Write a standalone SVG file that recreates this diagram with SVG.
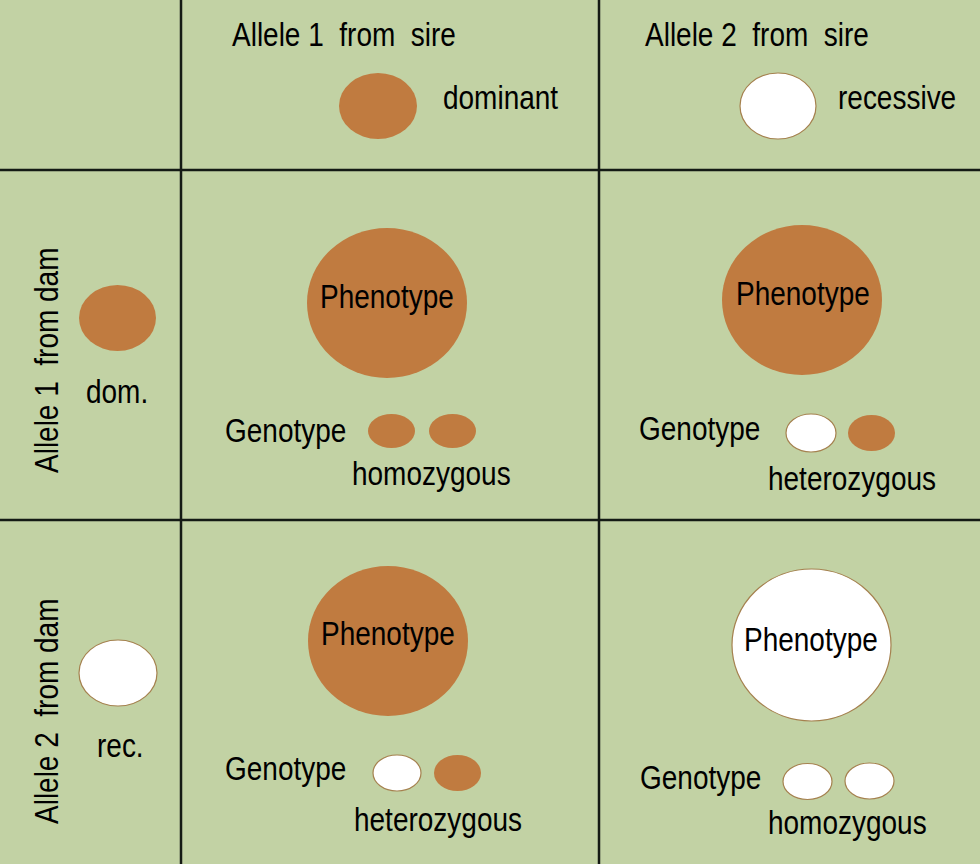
<svg xmlns="http://www.w3.org/2000/svg" width="980" height="864" viewBox="0 0 980 864">
<style>
text{font-family:"Liberation Sans",Arial,sans-serif;font-size:28px;fill:#000}
.b{fill:#c07b40}
.w{fill:#fff;stroke:#a5814f;stroke-width:1.2}
.grid line{stroke:#141a14;stroke-width:2.5}
</style>
<rect width="980" height="864" fill="#c2d2a4"/>
<g id="grid" class="grid">
<line x1="181" y1="0" x2="181" y2="864"/>
<line x1="599" y1="0" x2="599" y2="864"/>
<line x1="0" y1="170" x2="980" y2="170"/>
<line x1="0" y1="520" x2="980" y2="520"/>
</g>
<g id="sire1">
<text xml:space="preserve" transform="translate(232,46) scale(1,1.2)">Allele 1  from  sire</text>
<ellipse class="b" cx="378" cy="106" rx="39" ry="33"/>
<text transform="translate(443,109) scale(1,1.2)">dominant</text>
</g>
<g id="sire2">
<text xml:space="preserve" transform="translate(645,46) scale(1,1.2)">Allele 2  from  sire</text>
<ellipse class="w" cx="778" cy="106" rx="38" ry="33"/>
<text transform="translate(838,109) scale(1,1.2)">recessive</text>
</g>
<g id="dam1">
<text xml:space="preserve" transform="translate(58,473) rotate(-90) scale(1,1.2)">Allele 1  from dam</text>
<ellipse class="b" cx="117.5" cy="318" rx="38.5" ry="33"/>
<text transform="translate(86,403) scale(1,1.2)">dom.</text>
</g>
<g id="dam2">
<text xml:space="preserve" transform="translate(58,824) rotate(-90) scale(1,1.2)">Allele 2  from dam</text>
<ellipse class="w" cx="118" cy="673" rx="39" ry="33"/>
<text transform="translate(97,757) scale(1,1.2)">rec.</text>
</g>
<g id="cell11">
<ellipse class="b" cx="387" cy="303" rx="80" ry="75"/>
<text transform="translate(320,308) scale(1,1.2)">Phenotype</text>
<text transform="translate(225,442) scale(1,1.2)">Genotype</text>
<ellipse class="b" cx="391.5" cy="431" rx="23.5" ry="17"/>
<ellipse class="b" cx="452.5" cy="431" rx="23.5" ry="17"/>
<text transform="translate(352,485) scale(1,1.2)">homozygous</text>
</g>
<g id="cell12">
<ellipse class="b" cx="802" cy="300" rx="80" ry="75"/>
<text transform="translate(736,305) scale(1,1.2)">Phenotype</text>
<text transform="translate(639,440) scale(1,1.2)">Genotype</text>
<ellipse class="w" cx="811" cy="433" rx="25" ry="19"/>
<ellipse class="b" cx="871.5" cy="433" rx="23.5" ry="18"/>
<text transform="translate(768,490) scale(1,1.2)">heterozygous</text>
</g>
<g id="cell21">
<ellipse class="b" cx="388" cy="641" rx="80" ry="75"/>
<text transform="translate(321,645) scale(1,1.2)">Phenotype</text>
<text transform="translate(225,780) scale(1,1.2)">Genotype</text>
<ellipse class="w" cx="397" cy="773" rx="24" ry="18"/>
<ellipse class="b" cx="457.5" cy="773" rx="23.5" ry="18"/>
<text transform="translate(354,831) scale(1,1.2)">heterozygous</text>
</g>
<g id="cell22">
<ellipse class="w" cx="811.5" cy="645" rx="79.5" ry="76"/>
<text transform="translate(744,651) scale(1,1.2)">Phenotype</text>
<text transform="translate(640,789) scale(1,1.2)">Genotype</text>
<ellipse class="w" cx="807.5" cy="781.5" rx="24.5" ry="18"/>
<ellipse class="w" cx="869.5" cy="781" rx="24.5" ry="18"/>
<text transform="translate(768,834) scale(1,1.2)">homozygous</text>
</g>
</svg>
